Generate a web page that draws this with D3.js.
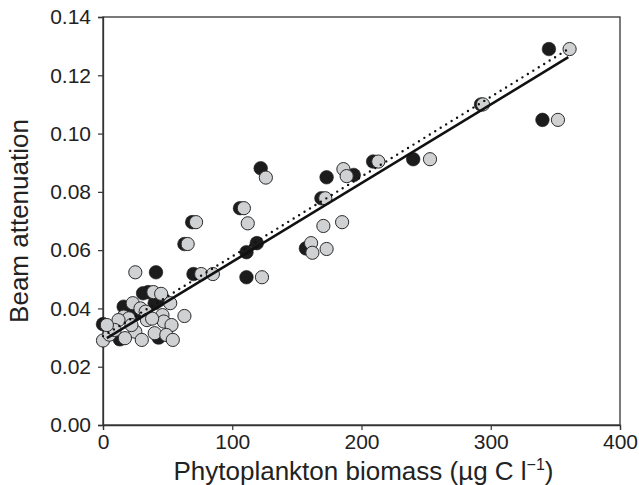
<!DOCTYPE html>
<html>
<head>
<meta charset="utf-8">
<script src="https://cdn.jsdelivr.net/npm/d3@7"></script>
<style>
  body { margin: 0; background: #fff; }
  svg text { font-family: "Liberation Sans", Arial, Helvetica, sans-serif; fill: #222; }
</style>
</head>
<body>
<div id="chart"></div>
<script>
// biomass (ug C/l), beam attenuation -- dark symbols
var darkPoints = [
  [345, 0.129], [340, 0.1047], [292.5, 0.110], [240, 0.0912], [209, 0.0904],
  [173, 0.085], [194, 0.0858], [169, 0.0778], [122, 0.0881], [106, 0.0744],
  [119, 0.0624], [111, 0.0593], [111, 0.0507], [157, 0.0606], [69, 0.0696],
  [63, 0.0621], [70, 0.0518], [41, 0.0524], [35, 0.0456], [43, 0.0427],
  [40, 0.0418], [16, 0.0406], [13, 0.0294], [43, 0.030], [4, 0.0337],
  [0, 0.0346], [31, 0.0452], [25, 0.038], [18, 0.039]
];
// light symbols
var lightPoints = [
  [361, 0.129], [352, 0.1047], [294, 0.110], [253, 0.0912], [213, 0.0904],
  [186, 0.0878], [188.5, 0.0854], [172, 0.0778], [126, 0.0849], [109, 0.0744],
  [112, 0.0692], [123, 0.0507], [170.5, 0.0683], [185, 0.0696], [161, 0.0624],
  [162, 0.0591], [173, 0.0604], [72, 0.0696], [65.5, 0.0621], [76, 0.0518],
  [85, 0.0518], [25, 0.0524], [39, 0.0456], [45, 0.045], [52, 0.0418],
  [23, 0.0418], [29, 0.040], [33, 0.0389], [16, 0.0372], [20, 0.0366],
  [12, 0.036], [46, 0.0377], [47, 0.0355], [53, 0.0343], [34, 0.036],
  [25, 0.032], [22, 0.0343], [40, 0.0315], [49, 0.0309], [54, 0.0292],
  [30, 0.0292], [17, 0.0298], [0, 0.029], [5, 0.031], [9, 0.0326],
  [3, 0.0343], [63, 0.0374], [38, 0.0365]
];
var solidFit = [[3, 0.0298], [360, 0.1262]];
var dottedFit = [[0, 0.0305], [360, 0.129]];

var xTicks = [0, 100, 200, 300, 400];
var yTicks = [0, 0.02, 0.04, 0.06, 0.08, 0.10, 0.12, 0.14];

var width = 639, height = 485;
var margin = {top: 17, right: 19, bottom: 60, left: 103};
var w = width - margin.left - margin.right,
    h = height - margin.top - margin.bottom;

var svg = d3.select("#chart").append("svg")
    .attr("width", width)
    .attr("height", height)
  .append("g")
    .attr("transform", "translate(" + margin.left + "," + margin.top + ")");

var x = d3.scaleLinear().domain([0, 400]).range([0, w]);
var y = d3.scaleLinear().domain([0, 0.14]).range([h, 0]);

// frame
svg.append("rect")
    .attr("width", w).attr("height", h)
    .attr("fill", "none")
    .attr("stroke", "#333")
    .attr("stroke-width", 1.3);

var xAxis = svg.append("g")
    .attr("transform", "translate(0," + h + ")")
    .call(d3.axisBottom(x).tickValues(xTicks).tickSize(5).tickPadding(4));
var yAxis = svg.append("g")
    .call(d3.axisLeft(y).tickValues(yTicks).tickSize(5).tickPadding(7).tickFormat(d3.format(".2f")));

[xAxis, yAxis].forEach(function(a) {
  a.select(".domain").attr("stroke", "#333").attr("stroke-width", 1.3);
  a.selectAll(".tick line").attr("stroke", "#333").attr("stroke-width", 1.2);
  a.selectAll(".tick text")
    .style("font-family", "'Liberation Sans', Arial, sans-serif")
    .style("font-size", "21px").attr("fill", "#222");
});

// points: dark ones first, light ones on top
svg.append("g").selectAll("circle")
    .data(darkPoints)
  .enter().append("circle")
    .attr("cx", function(d) { return x(d[0]); })
    .attr("cy", function(d) { return y(d[1]); })
    .attr("r", 6.8)
    .attr("fill", "#1c1c1c")
    .attr("stroke", "#1c1c1c")
    .attr("stroke-width", 0.6);

svg.append("g").selectAll("circle")
    .data(lightPoints)
  .enter().append("circle")
    .attr("cx", function(d) { return x(d[0]); })
    .attr("cy", function(d) { return y(d[1]); })
    .attr("r", 6.6)
    .attr("fill", "#cfd1d3")
    .attr("stroke", "#2a2a2a")
    .attr("stroke-width", 1);

// regression lines
var line = d3.line()
    .x(function(d) { return x(d[0]); })
    .y(function(d) { return y(d[1]); });

svg.append("path")
    .datum(solidFit)
    .attr("d", line)
    .attr("fill", "none")
    .attr("stroke", "#111")
    .attr("stroke-width", 2.6);

svg.append("path")
    .datum(dottedFit)
    .attr("d", line)
    .attr("fill", "none")
    .attr("stroke", "#111")
    .attr("stroke-width", 2.4)
    .attr("stroke-linecap", "round")
    .attr("stroke-dasharray", "0 6.4");

// axis titles
var xt = svg.append("text")
    .attr("x", w / 2 + 2)
    .attr("y", h + 55)
    .attr("text-anchor", "middle")
    .style("font-size", "26px");
xt.append("tspan").text("Phytoplankton biomass (\u00b5g C l");
xt.append("tspan").attr("dy", -10).style("font-size", "16px").text("\u22121");
xt.append("tspan").attr("dy", 10).text(")");

svg.append("text")
    .attr("transform", "rotate(-90)")
    .attr("x", -h / 2)
    .attr("y", -75)
    .attr("text-anchor", "middle")
    .style("font-size", "26px")
    .text("Beam attenuation");
</script>
</body>
</html>
